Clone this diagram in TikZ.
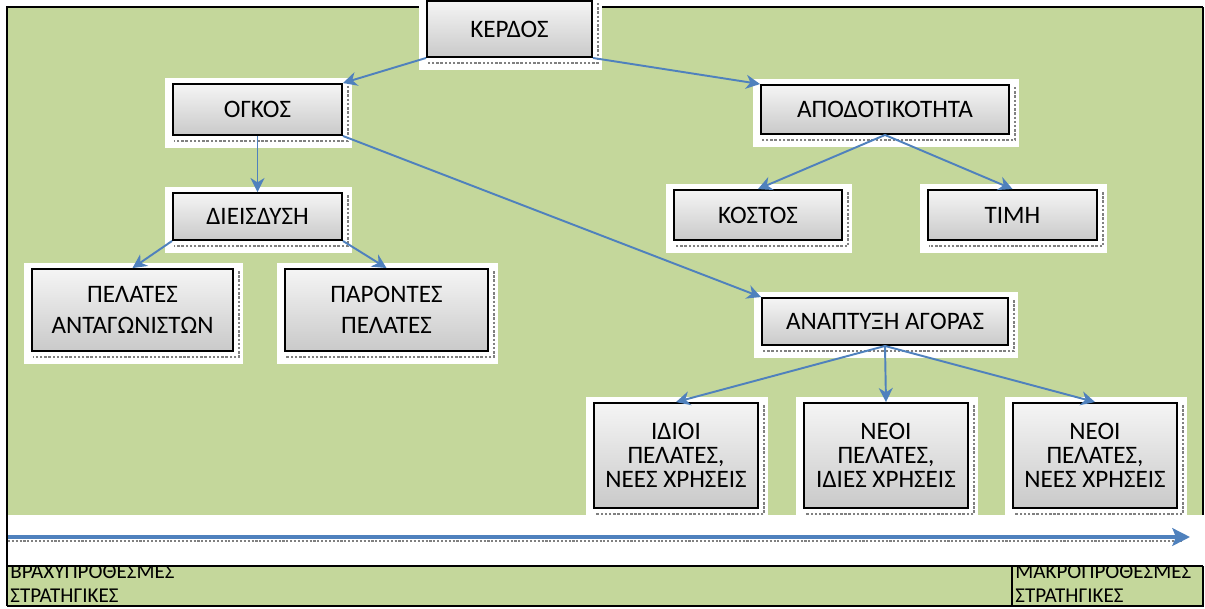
\documentclass[tikz,border=0pt]{standalone}
\usepackage{fontspec}
\setmainfont{Carlito}
\usetikzlibrary{arrows.meta, calc, backgrounds}
\definecolor{pagegreen}{HTML}{C4D79B}
\definecolor{linkblue}{HTML}{4F81BD}

\begin{document}
\begin{tikzpicture}[
      x=0.2mm, y=-0.2mm,
      block/.style={draw, rectangle, line width=1.1pt, top color=gray!8, bottom color=gray!42,
        align=center, inner sep=0pt, font=\fontsize{14.3}{13.5}\selectfont},
      boxsize/.style 2 args={minimum width=#1*0.2mm, minimum height=#2*0.2mm},
      link/.style={draw=linkblue, line width=1.1pt, -{Stealth[length=8pt, width=8pt, inset=2.5pt]}},
      label/.style={anchor=base west, inner sep=0pt, font=\fontsize{12}{14}\selectfont},
      >=Stealth
    ]
    \useasboundingbox (0,0) rectangle (1205,608);

    % Nodes
    \node[block, boxsize={165}{56}] (kerdos) at (509.5,29) {ΚΕΡΔΟΣ};
    \node[block, boxsize={169}{51}] (ogkos) at (257.5,109.5) {ΟΓΚΟΣ};
    \node[block, boxsize={248}{49}] (apod) at (885,109.5) {ΑΠΟΔΟΤΙΚΟΤΗΤΑ};
    \node[block, boxsize={169}{47}] (dieisdysi) at (257.5,216.5) {ΔΙΕΙΣΔΥΣΗ};
    \node[block, boxsize={168}{50}] (kostos) at (758,215) {ΚΟΣΤΟΣ};
    \node[block, boxsize={169}{50}] (timi) at (1012.5,215) {ΤΙΜΗ};
    \node[block, boxsize={201}{82}] (antag) at (132.5,310) {ΠΕΛΑΤΕΣ\\[4pt]ΑΝΤΑΓΩΝΙΣΤΩΝ};
    \node[block, boxsize={203}{82}] (parontes) at (386.5,310) {ΠΑΡΟΝΤΕΣ\\[4pt]ΠΕΛΑΤΕΣ};
    \node[block, boxsize={246}{47}] (anaptyxi) at (885,321.5) {ΑΝΑΠΤΥΞΗ ΑΓΟΡΑΣ};
    \node[block, boxsize={164}{105}] (idioi) at (676,455.5) {ΙΔΙΟΙ\\ΠΕΛΑΤΕΣ,\\ΝΕΕΣ ΧΡΗΣΕΙΣ};
    \node[block, boxsize={164}{105}] (neoiidies) at (886,455.5) {ΝΕΟΙ\\ΠΕΛΑΤΕΣ,\\ΙΔΙΕΣ ΧΡΗΣΕΙΣ};
    \node[block, boxsize={164}{105}] (neoinees) at (1095,455.5) {ΝΕΟΙ\\ΠΕΛΑΤΕΣ,\\ΝΕΕΣ ΧΡΗΣΕΙΣ};

    % Page and box frames
    \begin{scope}[on background layer]
      \fill[pagegreen] (7,7) rectangle (1203,606);
      \draw[line width=1.2pt] (7,606) -- (7,7) -- (1203,7);
      \draw[line width=0.6pt] (1203,7) -- (1203,606) -- (7,606);
      \foreach \n in {kerdos, ogkos, apod, dieisdysi, kostos, timi, antag, parontes,
          anaptyxi, idioi, neoiidies, neoinees} {
        \fill[white] ($(\n.north west)+(-7,-5)$) rectangle ($(\n.south east)+(9,12)$);
        \draw[gray, densely dotted, line width=1.4pt]
          ($(\n.north east)+(5,3)$) -- ($(\n.south east)+(5,5)$) -- ($(\n.south west)+(2,5)$);
      }
    \end{scope}

    % Arrows
    \draw[link] (kerdos.south west) -- (ogkos.north east);
    \draw[link] (kerdos.south east) -- (apod.north west);
    \draw[link] (ogkos.south) -- (dieisdysi.north);
    \draw[link] (ogkos.south east) -- (anaptyxi.north west);
    \draw[link] (apod.south) -- (kostos.north);
    \draw[link] (apod.south) -- (timi.north);
    \draw[link] (dieisdysi.south west) -- (antag.north);
    \draw[link] (dieisdysi.south east) -- (parontes.north);
    \draw[link] (anaptyxi.south) -- (idioi.north);
    \draw[link] (anaptyxi.south) -- (neoiidies.north);
    \draw[link] (anaptyxi.south) -- (neoinees.north);

    % Time axis
    \fill[white] (8,515) rectangle (1205,566);
    \coordinate (tstart) at (8,537);
    \coordinate (tend) at (1190,537);
    \draw[gray, densely dotted, line width=1.2pt] (8,541) -- (1182,541);
    \draw[linkblue, line width=2.8pt, -{Stealth[length=10pt, width=10pt, inset=2pt]}] (tstart) -- (tend);
    \draw[line width=0.8pt] (7,566) -- (1203,566);
    \draw[line width=0.6pt] (1012,566) -- (1012,606);
    \begin{scope}
      \clip (8,567) rectangle (1203,606);
      \node[label] (shortlbl) at (10,578) {ΒΡΑΧΥΠΡΟΘΕΣΜΕΣ};
      \node[label] (shortstr) at (10,602) {ΣΤΡΑΤΗΓΙΚΕΣ};
      \node[label] (longlbl) at (1015,578) {ΜΑΚΡΟΠΡΟΘΕΣΜΕΣ};
      \node[label] (longstr) at (1015,602) {ΣΤΡΑΤΗΓΙΚΕΣ};
    \end{scope}

  \end{tikzpicture}
\end{document}
